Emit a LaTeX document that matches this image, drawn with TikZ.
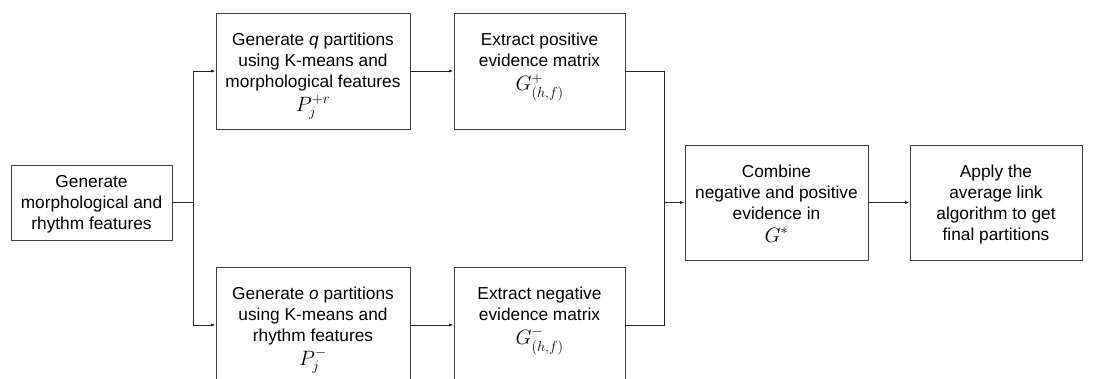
\documentclass[tikz,border=0pt]{standalone}
\usepackage{fontspec}
\setmainfont{Liberation Sans}
\usepackage{amsmath}
\usetikzlibrary{math}
\usetikzlibrary{arrows.meta,positioning}

\newcommand{\mth}[1]{{\fontsize{20}{21}\selectfont$#1$}}

\begin{document}
\begin{tikzpicture}[x=1pt,y=1pt,
  blk/.style={draw=black!75,line width=0.8pt,align=center,inner sep=0pt,
    font=\fontsize{17.3}{21}\selectfont},
  txt/.style={anchor=north,align=center,inner sep=0pt,yshift=-20pt,
    font=\fontsize{17.3}{21}\selectfont},
  flow/.style={draw=black!85,line width=0.8pt},
  >={Latex[length=4.5pt,width=3pt]}]
%%%% page
\useasboundingbox (0,0) rectangle (1114,-378);
\clip (0,0) rectangle (1114,-378);
%%%% sizes
\tikzmath{
\ytop=-71; \ybot=-325; \ymid=-202.5;
\xa=91.5; \xb=313; \xc=539.5; \xd=776.5; \xe=996;
\xsplit=193; \xmerge=664;
}
%%%%%% features
\node[blk,minimum width=161pt,minimum height=75pt,text depth=0pt] (gen) at (\xa,\ymid)
  {Generate\\morphological and\\rhythm features};
%%%%%% partitions
\node[blk,minimum width=194pt,minimum height=116pt,
  label={[txt]north:{Generate \textit{q} partitions\\using K-means and\\morphological features\\[3pt]\mth{P_j^{+r}}}}]
  (partq) at (\xb,\ytop) {};
\node[blk,minimum width=194pt,minimum height=116pt,
  label={[txt]north:{Generate \textit{o} partitions\\using K-means and\\rhythm features\\[3pt]\mth{P_j^{-}}}}]
  (parto) at (\xb,\ybot) {};
%%%%%% evidence
\node[blk,minimum width=171pt,minimum height=116pt,
  label={[txt]north:{Extract positive\\evidence matrix\\[3pt]\mth{G^{+}_{(h,f)}}}}]
  (pos) at (\xc,\ytop) {};
\node[blk,minimum width=171pt,minimum height=116pt,
  label={[txt]north:{Extract negative\\evidence matrix\\[3pt]\mth{G^{-}_{(h,f)}}}}]
  (neg) at (\xc,\ybot) {};
%%%%%% combine and final
\node[blk,minimum width=183pt,minimum height=115pt,
  label={[txt]north:{Combine\\negative and positive\\evidence in\\[2pt]\mth{G^{*}}}}]
  (comb) at (\xd,\ymid) {};
\node[blk,minimum width=172pt,minimum height=115pt,
  label={[txt]north:{Apply the\\average link\\algorithm to get\\final partitions}}]
  (apply) at (\xe,\ymid) {};
%%%% split and merge points
\coordinate (split) at (\xsplit,\ymid);
\coordinate (merge) at (\xmerge,\ymid);
%%%% arrows
\draw[flow] (gen) -- (split);
\draw[flow,->] (split) |- (partq);
\draw[flow,->] (split) |- (parto);
\draw[flow,->] (partq) -- (pos);
\draw[flow,->] (parto) -- (neg);
\draw[flow] (pos) -| (merge);
\draw[flow] (neg) -| (merge);
\draw[flow,->] (merge) -- (comb);
\draw[flow,->] (comb) -- (apply);
\end{tikzpicture}
\end{document}
